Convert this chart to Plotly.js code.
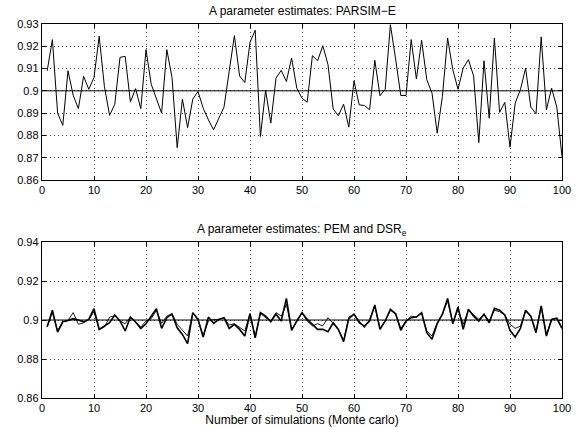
<!DOCTYPE html>
<html>
<head>
<meta charset="utf-8">
<script src="https://cdn.plot.ly/plotly-3.0.1.min.js"></script>
<style>html,body{margin:0;padding:0;background:#fff;}#chart{width:579px;height:427px;}</style>
</head>
<body>
<div id="chart"></div>
<script>
// Simulation index 1..100
const runs = Array.from({length: 100}, (_, i) => i + 1);

// Top: PARSIM-E estimates of the A parameter
const parsimE = [
  0.909, 0.923, 0.890, 0.8845, 0.909, 0.898, 0.892, 0.9065, 0.9007, 0.906,
  0.9245, 0.902, 0.889, 0.894, 0.915, 0.9155, 0.895, 0.901, 0.892, 0.9185,
  0.903, 0.8965, 0.890, 0.9185, 0.906, 0.8745, 0.8963, 0.8835, 0.8963, 0.8997,
  0.8922, 0.887, 0.8825, 0.8877, 0.8927, 0.9088, 0.9248, 0.9067, 0.9037, 0.9218,
  0.9272, 0.8795, 0.9002, 0.8855, 0.9057, 0.9092, 0.9042, 0.9147, 0.9012, 0.8967,
  0.8949, 0.9158, 0.9135, 0.9203, 0.9117, 0.8918, 0.8888, 0.894, 0.8837, 0.9045,
  0.8937, 0.8934, 0.8915, 0.9137, 0.8978, 0.9007, 0.9297, 0.9143, 0.8979, 0.8979,
  0.923, 0.9053, 0.9227, 0.905, 0.899, 0.881, 0.8975, 0.9237, 0.9095, 0.9007,
  0.9102, 0.914, 0.9067, 0.8768, 0.9135, 0.8877, 0.9237, 0.8903, 0.8948, 0.8747,
  0.8945, 0.9005, 0.9102, 0.8927, 0.8897, 0.9242, 0.8915, 0.9012, 0.8927, 0.8705
];

// Bottom: PEM (thick line) estimates
const pem = [
  0.8966, 0.905, 0.8938, 0.8991, 0.8998, 0.9007, 0.900, 0.899, 0.9003, 0.9058,
  0.8952, 0.8969, 0.8986, 0.9026, 0.8995, 0.8944, 0.9015, 0.899, 0.8956, 0.8981,
  0.902, 0.9058, 0.8957, 0.9012, 0.903, 0.896, 0.8926, 0.8879, 0.9038, 0.9003,
  0.8913, 0.9015, 0.8983, 0.9003, 0.9012, 0.8957, 0.8978, 0.8952, 0.8918, 0.9032,
  0.8909, 0.9038, 0.902, 0.8991, 0.903, 0.8995, 0.9111, 0.8947, 0.8995, 0.9038,
  0.9003, 0.8978, 0.8952, 0.8952, 0.894, 0.8986, 0.8952, 0.8889, 0.9007, 0.903,
  0.8986, 0.8969, 0.8995, 0.9077, 0.8952, 0.8995, 0.9055, 0.9032, 0.8947, 0.8995,
  0.9012, 0.9015, 0.9038, 0.8935, 0.8901, 0.8981, 0.903, 0.9111, 0.8981, 0.9067,
  0.8952, 0.9055, 0.902, 0.8995, 0.903, 0.8986, 0.906, 0.905, 0.9026, 0.8947,
  0.8913, 0.8957, 0.905, 0.902, 0.8935, 0.9072, 0.8918, 0.9003, 0.9009, 0.8957
];

// Bottom: DSR_e (thin line) estimates
const dsrE = [
  0.8966, 0.904, 0.8945, 0.8991, 0.8998, 0.9038, 0.8978, 0.8986, 0.9003, 0.9043,
  0.8952, 0.8964, 0.9015, 0.9022, 0.8995, 0.8981, 0.9015, 0.899, 0.8964, 0.8995,
  0.9007, 0.905, 0.8983, 0.902, 0.9033, 0.8978, 0.8947, 0.8918, 0.9035, 0.9003,
  0.8918, 0.8995, 0.9003, 0.9003, 0.9012, 0.8974, 0.8981, 0.8964, 0.8944, 0.9032,
  0.8912, 0.9035, 0.9012, 0.8995, 0.9038, 0.902, 0.908, 0.8952, 0.8995, 0.9035,
  0.8995, 0.897, 0.8981, 0.897, 0.9012, 0.8981, 0.8952, 0.8895, 0.9015, 0.903,
  0.8995, 0.896, 0.9003, 0.907, 0.8957, 0.8995, 0.905, 0.9032, 0.8957, 0.8995,
  0.902, 0.9015, 0.9035, 0.8944, 0.8918, 0.8986, 0.903, 0.9098, 0.8985, 0.9055,
  0.8978, 0.905, 0.9028, 0.9003, 0.903, 0.8995, 0.905, 0.9043, 0.9026, 0.8978,
  0.8957, 0.8969, 0.9045, 0.902, 0.894, 0.907, 0.8925, 0.9003, 0.9009, 0.8962
];

const trueValue = 0.9;
const xTicks = [0, 10, 20, 30, 40, 50, 60, 70, 80, 90, 100];
const yTicksTop = [0.86, 0.87, 0.88, 0.89, 0.9, 0.91, 0.92, 0.93];
const yTickTextTop = ['0.86', '0.87', '0.88', '0.89', '0.9', '0.91', '0.92', '0.93'];
const yTicksBot = [0.86, 0.88, 0.9, 0.92, 0.94];
const yTickTextBot = ['0.86', '0.88', '0.9', '0.92', '0.94'];
const topTitle = 'A parameter estimates: PARSIM\u2212E';
const botTitle = 'A parameter estimates: PEM and DSR<sub>e</sub>';
const xTitle = 'Number of simulations (Monte carlo)';

const FONT = 'Liberation Sans, Arial, Helvetica, sans-serif';

const traces = [
  {x: runs, y: parsimE, type: 'scatter', mode: 'lines', line: {color: '#000', width: 1}, xaxis: 'x', yaxis: 'y'},
  {x: [0, 100], y: [trueValue, trueValue], type: 'scatter', mode: 'lines', line: {color: '#000', width: 1}, xaxis: 'x', yaxis: 'y'},
  {x: [0, 100], y: [trueValue, trueValue], type: 'scatter', mode: 'lines', line: {color: '#000', width: 1}, xaxis: 'x2', yaxis: 'y2'},
  {x: runs, y: dsrE, type: 'scatter', mode: 'lines', line: {color: '#000', width: 0.9}, xaxis: 'x2', yaxis: 'y2'},
  {x: runs, y: pem, type: 'scatter', mode: 'lines', line: {color: '#000', width: 1.6}, xaxis: 'x2', yaxis: 'y2'}
];

const axisCommon = {
  showline: true, mirror: 'ticks', linecolor: '#000', linewidth: 1.2,
  ticks: 'inside', ticklen: 4, tickcolor: '#000',
  showgrid: true, gridcolor: '#444', griddash: '1px,3px', gridwidth: 1,
  zeroline: false, tickfont: {family: FONT, size: 11, color: '#000'}
};

const layout = {
  width: 579, height: 427,
  margin: {l: 42, r: 17, t: 24, b: 29},
  paper_bgcolor: '#fff', plot_bgcolor: '#fff',
  showlegend: false,
  font: {family: FONT, color: '#000'},
  xaxis: Object.assign({}, axisCommon, {domain: [0, 1], range: [0, 100], tickvals: xTicks, anchor: 'y'}),
  yaxis: Object.assign({}, axisCommon, {domain: [0.583, 1], range: [0.86, 0.93], tickvals: yTicksTop, ticktext: yTickTextTop, anchor: 'x'}),
  xaxis2: Object.assign({}, axisCommon, {domain: [0, 1], range: [0, 100], tickvals: xTicks, anchor: 'y2',
    title: {text: xTitle, font: {family: FONT, size: 12, color: '#000'}, standoff: 0}}),
  yaxis2: Object.assign({}, axisCommon, {domain: [0, 0.417], range: [0.86, 0.94], tickvals: yTicksBot, ticktext: yTickTextBot, anchor: 'x2'}),
  annotations: [
    {text: topTitle, xref: 'paper', yref: 'paper', x: 0.5, y: 1, yshift: 4, xanchor: 'center', yanchor: 'bottom', showarrow: false, font: {family: FONT, size: 12, color: '#000'}},
    {text: botTitle, xref: 'paper', yref: 'paper', x: 0.5, y: 0.417, yshift: 2, xanchor: 'center', yanchor: 'bottom', showarrow: false, font: {family: FONT, size: 12, color: '#000'}}
  ]
};

Plotly.newPlot('chart', traces, layout, {displayModeBar: false, staticPlot: true});
</script>
</body>
</html>
